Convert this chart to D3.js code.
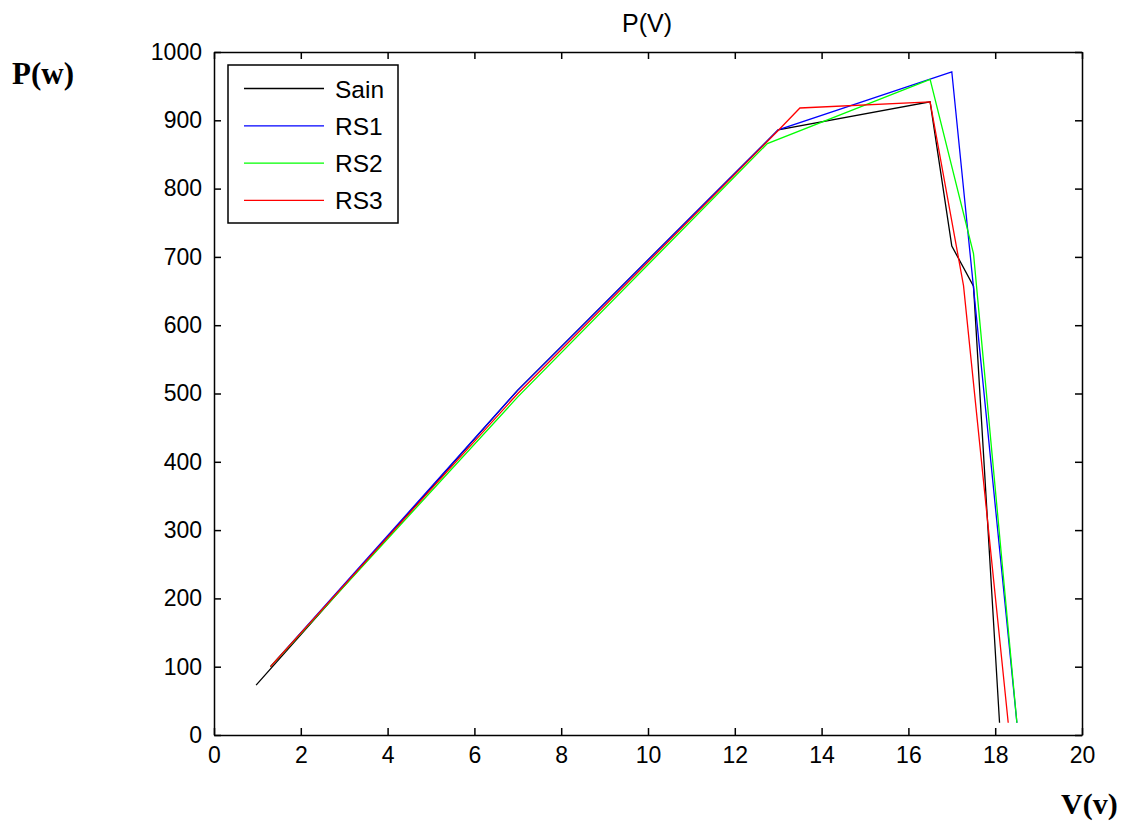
<!DOCTYPE html>
<html>
<head>
<meta charset="utf-8">
<script src="https://cdn.jsdelivr.net/npm/d3@7"></script>
<style>
  body { margin: 0; background: #fff; }
</style>
</head>
<body>
<div id="chart"></div>
<script>
// data: voltage (V) and power (W)
var seriesNames = ["Sain", "RS1", "RS2", "RS3"];
var seriesColors = ["#000000", "#0000ff", "#00ff00", "#ff0000"];
var sainV = [0.97, 7, 13, 16.5, 17, 17.5, 18.1];
var sainP = [73, 505, 886, 927, 716, 657, 18];
var rs1V = [1.3, 7, 13, 17, 17.5, 18.5];
var rs1P = [100, 505, 886, 971, 655, 18];
var rs2V = [1.3, 7, 12.75, 16.5, 17.5, 18.5];
var rs2P = [100, 495, 866, 960, 705, 18];
var rs3V = [1.3, 7, 13, 13.5, 16.5, 17.27, 18.3];
var rs3P = [100, 500, 885, 918, 927, 658, 18];
var xTicks = [0, 2, 4, 6, 8, 10, 12, 14, 16, 18, 20];
var yTicks = [0, 100, 200, 300, 400, 500, 600, 700, 800, 900, 1000];

var sans = "Liberation Sans, Arial, sans-serif";
var serif = "Liberation Serif, Times New Roman, serif";

var W = 1130, H = 821;
var margin = {left: 214, right: 48, top: 52, bottom: 86};
var width = W - margin.left - margin.right,
    height = H - margin.top - margin.bottom;

var svg = d3.select("#chart").append("svg")
    .attr("width", W)
    .attr("height", H);

var g = svg.append("g")
    .attr("transform", "translate(" + margin.left + "," + margin.top + ")");

var x = d3.scaleLinear().domain([0, 20]).range([0, width]);
var y = d3.scaleLinear().domain([0, 1000]).range([height, 0]);

// axes with inward ticks on all four sides
var tk = 7;
g.append("g").attr("transform", "translate(0," + height + ")")
  .call(d3.axisBottom(x).tickValues(xTicks).tickFormat(d3.format("d"))
    .tickSizeInner(-tk).tickSizeOuter(0).tickPadding(12));
g.append("g")
  .call(d3.axisTop(x).tickValues(xTicks).tickSizeInner(-tk).tickSizeOuter(0).tickFormat(""));
g.append("g")
  .call(d3.axisLeft(y).tickValues(yTicks).tickFormat(d3.format("d"))
    .tickSizeInner(-tk).tickSizeOuter(0).tickPadding(12));
g.append("g").attr("transform", "translate(" + width + ",0)")
  .call(d3.axisRight(y).tickValues(yTicks).tickSizeInner(-tk).tickSizeOuter(0).tickFormat(""));

g.selectAll(".domain").attr("stroke", "#000").attr("stroke-width", 1.5);
g.selectAll(".tick line").attr("stroke", "#000").attr("stroke-width", 1.5);
g.selectAll(".tick text")
  .style("font-size", "23px")
  .style("font-family", sans)
  .attr("fill", "#000");

// lines
var all = [
  {name: seriesNames[0], v: sainV, p: sainP, color: seriesColors[0]},
  {name: seriesNames[1], v: rs1V, p: rs1P, color: seriesColors[1]},
  {name: seriesNames[2], v: rs2V, p: rs2P, color: seriesColors[2]},
  {name: seriesNames[3], v: rs3V, p: rs3P, color: seriesColors[3]}
];
var line = d3.line()
  .x(function (d) { return x(d[0]); })
  .y(function (d) { return y(d[1]); });

all.forEach(function (s) {
  g.append("path")
    .datum(d3.zip(s.v, s.p))
    .attr("d", line)
    .attr("fill", "none")
    .attr("stroke", s.color)
    .attr("stroke-width", 1.3);
});

// title and axis labels
svg.append("text")
  .attr("x", 647).attr("y", 32)
  .attr("text-anchor", "middle")
  .style("font-family", sans)
  .style("font-size", "25px")
  .text("P(V)");

svg.append("text")
  .attr("x", 12).attr("y", 84)
  .style("font-family", serif)
  .style("font-weight", "bold")
  .style("font-size", "31px")
  .text("P(w)");

svg.append("text")
  .attr("x", 1061).attr("y", 814)
  .style("font-family", serif)
  .style("font-weight", "bold")
  .style("font-size", "30px")
  .text("V(v)");

// legend
var leg = svg.append("g").attr("transform", "translate(228,65)");
leg.append("rect")
  .attr("width", 170).attr("height", 158)
  .attr("fill", "#fff")
  .attr("stroke", "#000")
  .attr("stroke-width", 1.5);
all.forEach(function (s, i) {
  var yy = 23.5 + i * 37.3;
  leg.append("line")
    .attr("x1", 16).attr("x2", 96)
    .attr("y1", yy).attr("y2", yy)
    .attr("stroke", s.color)
    .attr("stroke-width", 1.3);
  leg.append("text")
    .attr("x", 107).attr("y", yy + 9)
    .style("font-family", sans)
    .style("font-size", "24.5px")
    .text(s.name);
});
</script>
</body>
</html>
